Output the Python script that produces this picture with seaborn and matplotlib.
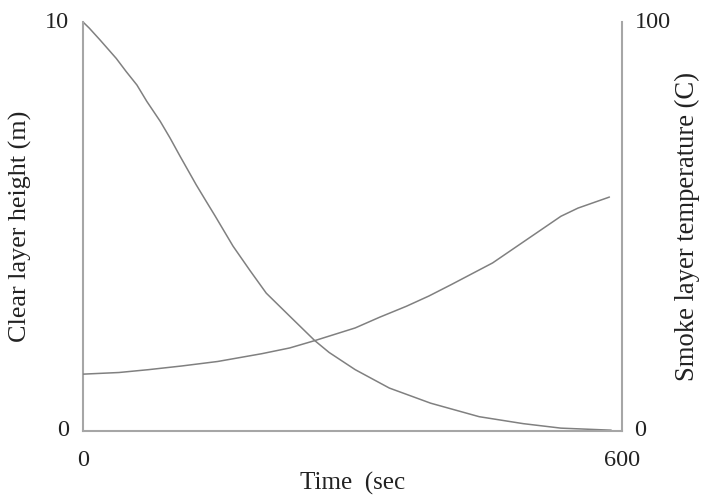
import matplotlib
matplotlib.use("Agg")
import matplotlib.pyplot as plt
import seaborn as sns
import pandas as pd

# Data
time_h = [0, 7, 19, 37, 48, 60, 71, 86, 97, 108, 126, 137, 147, 167, 186, 204, 230, 258, 274,
          303, 341, 387, 441, 490, 532, 588]
height = [10, 9.85, 9.56, 9.11, 8.79, 8.46, 8.06, 7.57, 7.16, 6.72, 6.02, 5.62, 5.26, 4.52, 3.92,
          3.37, 2.81, 2.21, 1.92, 1.5, 1.05, 0.68, 0.35, 0.18, 0.07, 0.02]
time_t = [0, 40, 73, 110, 150, 199, 230, 258, 303, 330, 360, 385, 410, 456, 494, 532, 551, 586]
temp = [13.9, 14.3, 15.0, 15.9, 17.0, 18.9, 20.3, 22.1, 25.2, 27.8, 30.5, 33.0, 35.8, 41.1,
        46.8, 52.5, 54.5, 57.2]

x_ticks = [0, 600]
left_ticks = [0, 10]
right_ticks = [0, 100]

sns.set_style("white")
plt.rcParams["font.family"] = ["Liberation Serif", "DejaVu Serif"]

line_col = "#808080"
spine_col = "#a6a6a6"
txt_col = "#222222"
fs_tick = 17.5

fig = plt.figure(figsize=(7.01, 4.97), dpi=100)
ax = fig.add_axes([83 / 701, 1 - 431 / 497, (622 - 83) / 701, (431 - 22) / 497])
ax2 = ax.twinx()

df_h = pd.DataFrame({"t": time_h, "h": height})
df_t = pd.DataFrame({"t": time_t, "T": temp})
sns.lineplot(data=df_h, x="t", y="h", ax=ax, color=line_col, linewidth=1.1)
sns.lineplot(data=df_t, x="t", y="T", ax=ax2, color=line_col, linewidth=1.1)

ax.set_xlim(0, 600)
ax.set_ylim(0, 10)
ax2.set_ylim(0, 100)
ax.set_xticks(x_ticks)
ax.set_yticks(left_ticks)
ax2.set_yticks(right_ticks)

for a in (ax, ax2):
    a.spines["top"].set_visible(False)
    for s in ("left", "right", "bottom"):
        a.spines[s].set_color(spine_col)
        a.spines[s].set_linewidth(1.5)
ax.spines["right"].set_visible(False)
ax2.spines["left"].set_visible(False)
ax2.spines["bottom"].set_visible(False)

ax.tick_params(axis="x", length=0, pad=14, labelsize=fs_tick, colors=txt_col)
ax.tick_params(axis="y", length=0, pad=10, labelsize=fs_tick, colors=txt_col)
ax2.tick_params(axis="y", length=0, pad=9, labelsize=fs_tick, colors=txt_col)
for lbl in ax.get_yticklabels() + ax2.get_yticklabels():
    lbl.set_verticalalignment("center")

ax.set_xlabel("Time  (sec", fontsize=18, color=txt_col, labelpad=0)
ax.set_ylabel("Clear layer height (m)", fontsize=18.8, color=txt_col, labelpad=9)
ax2.set_ylabel("Smoke layer temperature (C)", fontsize=19.2, color=txt_col,
               rotation=90, labelpad=3)

fig.savefig("out.png", dpi=100)
